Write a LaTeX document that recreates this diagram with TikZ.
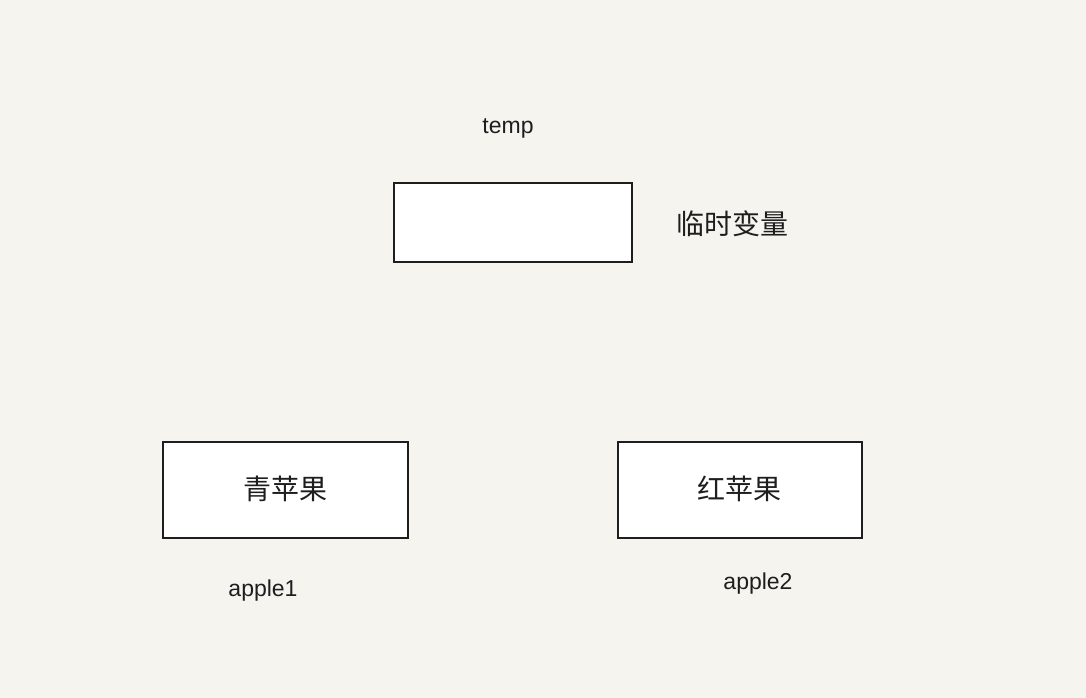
\documentclass[tikz,border=0pt]{standalone}
\usepackage{fontspec}
\setmainfont{Liberation Sans}
\newfontfamily\cjk{Noto Sans CJK SC}
\definecolor{bg}{HTML}{F6F4EE}
\definecolor{ink}{HTML}{1E1E1E}
\begin{document}
\begin{tikzpicture}[x=1pt,y=-1pt,
  varbox/.style={draw=ink,line width=2pt,fill=white,rectangle},
  lbl/.style={text=ink,font=\fontsize{23}{27}\selectfont,inner sep=0pt},
  cjklbl/.style={text=ink,font=\cjk\fontsize{28}{33}\selectfont,inner sep=0pt}]
\useasboundingbox (0,0) rectangle (1086,698);
\fill[bg] (0,0) rectangle (1086,698);
\draw[varbox] (394,183) rectangle (632,262);
\node[varbox,minimum width=245pt,minimum height=96pt] (green) at (285.5,490) {};
\node[cjklbl] (greent) at (285,489) {青苹果};
\node[varbox,minimum width=244pt,minimum height=96pt] (red) at (740,490) {};
\node[cjklbl] (redt) at (739,489) {红苹果};
\node[lbl] (temp) at (508,128) {temp};
\node[lbl] (a1) at (263,591) {apple1};
\node[lbl] (a2) at (758,584) {apple2};
\node[cjklbl] (tempdesc) at (732,224) {临时变量};
\end{tikzpicture}
\end{document}
